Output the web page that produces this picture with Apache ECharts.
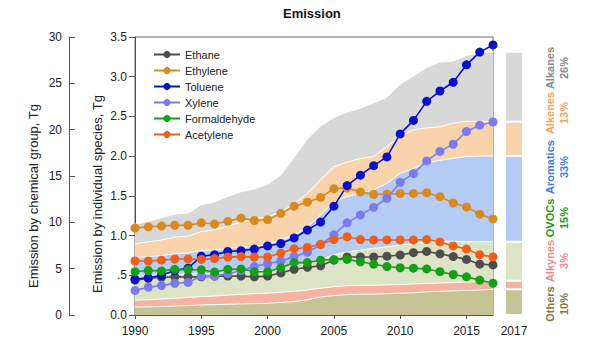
<!DOCTYPE html>
<html>
<head>
<meta charset="utf-8">
<script src="https://cdn.jsdelivr.net/npm/echarts@6/dist/echarts.min.js"></script>
<style>
html,body{margin:0;padding:0;background:#fff;}
#chart{width:600px;height:355px;}
</style>
</head>
<body>
<div id="chart"></div>
<script>
// ---------- data ----------
const years = ['1990','1991','1992','1993','1994','1995','1996','1997','1998','1999','2000','2001','2002','2003','2004','2005','2006','2007','2008','2009','2010','2011','2012','2013','2014','2015','2016','2017'];

// individual species, Tg (inner axis)
const speciesNames = ['Ethane','Ethylene','Toluene','Xylene','Formaldehyde','Acetylene'];
const ethane       = [0.44,0.46,0.475,0.48,0.48,0.48,0.49,0.49,0.49,0.48,0.49,0.53,0.575,0.60,0.62,0.69,0.73,0.73,0.73,0.74,0.755,0.785,0.80,0.77,0.735,0.70,0.64,0.63];
const ethylene     = [1.095,1.11,1.12,1.13,1.13,1.16,1.145,1.18,1.22,1.19,1.20,1.28,1.37,1.42,1.48,1.59,1.60,1.55,1.52,1.52,1.53,1.53,1.54,1.49,1.41,1.36,1.27,1.21];
const toluene      = [0.45,0.47,0.50,0.56,0.59,0.74,0.76,0.80,0.81,0.83,0.87,0.90,0.97,1.07,1.17,1.37,1.63,1.76,1.88,1.99,2.28,2.45,2.69,2.82,2.93,3.15,3.31,3.40];
const xylene       = [0.31,0.35,0.37,0.40,0.41,0.49,0.49,0.52,0.56,0.61,0.645,0.68,0.735,0.79,0.885,1.01,1.16,1.26,1.355,1.47,1.67,1.78,1.94,2.06,2.15,2.31,2.39,2.43];
const formaldehyde = [0.545,0.56,0.555,0.575,0.57,0.57,0.54,0.575,0.58,0.545,0.545,0.595,0.66,0.66,0.69,0.70,0.70,0.67,0.64,0.61,0.595,0.59,0.58,0.545,0.51,0.48,0.44,0.40];
const acetylene    = [0.68,0.68,0.69,0.705,0.705,0.70,0.71,0.73,0.735,0.73,0.73,0.78,0.835,0.85,0.89,0.95,0.985,0.95,0.945,0.945,0.945,0.945,0.95,0.92,0.87,0.83,0.76,0.73];

// chemical groups, Tg (outer axis), stacked bottom -> top
const groupNames  = ['Others','Alkynes','OVOCs','Aromatics','Alkenes','Alkanes'];
const groupShares = ['10%','3%','15%','33%','13%','26%'];
const others    = [0.85,0.88,0.92,0.97,1.02,1.08,1.12,1.16,1.20,1.23,1.26,1.35,1.45,1.65,1.95,2.10,2.20,2.25,2.25,2.30,2.35,2.40,2.50,2.55,2.60,2.65,2.70,2.77];
const alkynes   = [0.75,0.77,0.80,0.83,0.88,0.90,0.93,0.99,1.02,1.07,1.09,1.10,1.10,1.05,0.95,0.95,0.95,0.95,0.95,0.95,0.95,0.95,0.90,0.90,0.90,0.90,0.90,0.93];
const ovocs     = [2.70,2.65,2.63,2.60,2.50,2.47,2.45,2.45,2.48,2.45,2.50,2.55,2.75,2.90,3.10,3.45,3.65,3.80,4.00,4.10,4.25,4.35,4.50,4.50,4.45,4.35,4.30,4.20];
const aromatics = [1.90,2.00,2.05,2.20,2.30,2.55,2.50,2.60,2.60,2.65,2.75,3.10,3.30,3.90,4.80,5.70,6.00,6.10,6.30,6.85,7.75,8.10,8.50,8.75,8.95,9.20,9.25,9.26];
const alkenes   = [1.50,1.60,1.70,1.80,1.80,2.00,2.20,2.40,2.70,3.00,3.00,3.00,3.40,3.60,3.80,3.80,3.70,3.80,3.60,4.00,3.90,4.20,3.80,3.60,3.80,3.80,3.75,3.70];
const alkanes   = [2.10,2.20,2.40,2.50,2.50,2.90,3.00,3.20,3.30,3.20,3.50,4.00,5.00,5.90,5.80,5.30,5.40,5.40,5.80,5.30,5.70,5.80,6.50,7.00,6.70,7.10,7.40,7.54];

const innerTickLabels = ['0.0','.5','1.0','1.5','2.0','2.5','3.0','3.5'];
const barCategory = ['2017'];
const innerAxisName = 'Emission by individual species, Tg';
const outerAxisName = 'Emission by chemical group, Tg';

// ---------- styles ----------
const FONT = 'Liberation Sans, Arial, sans-serif';
const speciesData = [ethane, ethylene, toluene, xylene, formaldehyde, acetylene];
const speciesColors = ['#4d4d4d','#d98a1f','#0a10c8','#7b7bef','#14a014','#ef5f1c'];
const groupData = [others, alkynes, ovocs, aromatics, alkenes, alkanes];
const groupColors = ['#c6c396','#f7b2a2','#dde3c5','#b5cdf4','#f9d3ab','#d8d8d8'];
const labelColors = ['#7d7b45','#f2898a','#1a991a','#3f7de6','#f3a55a','#8a8a8a'];
const labelCenters = [304, 261, 218, 167, 113, 68];

const series = [];
groupData.forEach((arr, i) => {
  series.push({
    name: groupNames[i], type: 'line', stack: 'groups',
    xAxisIndex: 0, yAxisIndex: 1,
    data: arr,
    symbol: 'none', smooth: false,
    lineStyle: { color: '#ffffff', width: 1 },
    areaStyle: { color: groupColors[i], opacity: 1 },
    z: 1, silent: true
  });
});
groupData.forEach((arr, i) => {
  series.push({
    name: groupNames[i] + ' 2017', type: 'bar', stack: 'bar2017',
    xAxisIndex: 1, yAxisIndex: 2, barWidth: '100%',
    data: [arr[arr.length - 1]],
    itemStyle: { color: groupColors[i], borderColor: '#ffffff', borderWidth: 1 },
    silent: true
  });
});
speciesData.forEach((arr, i) => {
  series.push({
    name: speciesNames[i], type: 'line',
    xAxisIndex: 0, yAxisIndex: 0,
    data: arr,
    symbol: 'circle', symbolSize: 9, showAllSymbol: true,
    lineStyle: { color: speciesColors[i], width: 1.6 },
    itemStyle: { color: speciesColors[i] },
    z: 3
  });
});

const textStyleBase = { fill: '#222', font: '13px ' + FONT, align: 'center', verticalAlign: 'middle' };
const graphics = [
  { type: 'text', x: 33, y: 196, rotation: Math.PI / 2, style: Object.assign({ text: outerAxisName }, textStyleBase) },
  { type: 'text', x: 97, y: 194, rotation: Math.PI / 2, style: Object.assign({ text: innerAxisName }, textStyleBase) }
].concat(groupNames.map((n, i) => ({
  type: 'text',
  x: 557, y: labelCenters[i],
  rotation: Math.PI / 2,
  style: {
    text: n + '\n' + groupShares[i],
    fill: labelColors[i],
    font: 'bold 11px ' + FONT,
    align: 'center', verticalAlign: 'middle',
    lineHeight: 14
  }
})));

const chart = echarts.init(document.getElementById('chart'), null, { renderer: 'svg' });
chart.setOption({
  animation: false,
  backgroundColor: '#ffffff',
  textStyle: { fontFamily: FONT },
  title: {
    text: 'Emission', left: 278, top: 2,
    textStyle: { fontSize: 13, fontWeight: 'bold', color: '#111', fontFamily: FONT }
  },
  legend: {
    data: speciesNames, orient: 'vertical', left: 148, top: 44,
    itemWidth: 26, itemHeight: 9, itemGap: 5,
    textStyle: { fontSize: 11, color: '#222', fontFamily: FONT }
  },
  grid: [
    { left: 135, top: 37, width: 358, height: 278, show: true, borderColor: '#666', borderWidth: 1, backgroundColor: 'transparent' },
    { left: 505, top: 37, width: 18, height: 278 }
  ],
  xAxis: [
    { gridIndex: 0, type: 'category', data: years, boundaryGap: false,
      axisLine: { lineStyle: { color: '#555' } },
      axisTick: { show: true, length: 4, interval: 4, lineStyle: { color: '#555' } },
      axisLabel: { fontSize: 12, color: '#222', margin: 10, interval: 4, fontFamily: FONT },
      splitLine: { show: false } },
    { gridIndex: 1, type: 'category', data: barCategory,
      axisLine: { show: false }, axisTick: { show: false },
      axisLabel: { fontSize: 12, color: '#222', margin: 10, fontFamily: FONT } }
  ],
  yAxis: [
    { gridIndex: 0, type: 'value', min: 0, max: 3.5, interval: 0.5, position: 'left',
      axisLine: { show: true, lineStyle: { color: '#555' } },
      axisTick: { show: true, length: 6, lineStyle: { color: '#555' } },
      axisLabel: { fontSize: 12, color: '#222', margin: 8, fontFamily: FONT,
        formatter: (v) => innerTickLabels[Math.round(v / 0.5)] },
      splitLine: { show: false } },
    { gridIndex: 0, type: 'value', min: 0, max: 30, interval: 5, position: 'left', offset: 66,
      axisLine: { show: true, lineStyle: { color: '#555' } },
      axisTick: { show: true, inside: true, length: 6, lineStyle: { color: '#555' } },
      axisLabel: { fontSize: 12, color: '#222', margin: 7, fontFamily: FONT },
      splitLine: { show: false } },
    { gridIndex: 1, type: 'value', min: 0, max: 30, show: false }
  ],
  graphic: graphics,
  series: series
});
</script>
</body>
</html>
